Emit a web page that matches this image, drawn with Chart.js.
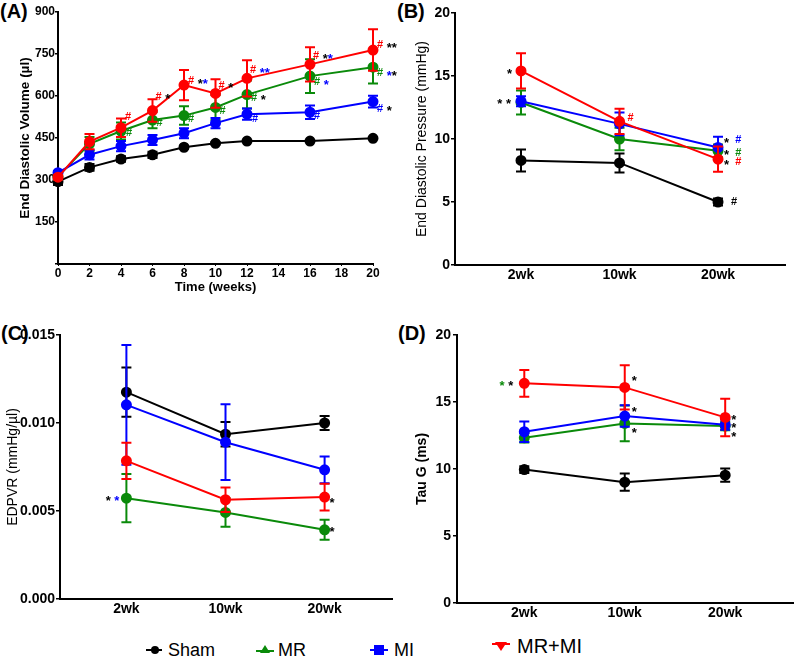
<!DOCTYPE html>
<html>
<head>
<meta charset="utf-8">
<script src="https://cdn.jsdelivr.net/npm/chart.js@4.4.0/dist/chart.umd.min.js"></script>
<style>
  body { margin: 0; background: #fff; width: 800px; height: 660px; position: relative; overflow: hidden;
         font-family: "Liberation Sans", Arial, sans-serif; }
  .box { position: absolute; }
  .tag { position: absolute; font-weight: bold; font-size: 20px; line-height: 20px; }
  .leg { position: absolute; line-height: 1; }
  .leg svg { position: absolute; }
</style>
</head>
<body>
<div class="tag" style="left:0px;top:1px">(A)</div>
<div class="tag" style="left:397px;top:1px">(B)</div>
<div class="tag" style="left:1px;top:323px">(C)</div>
<div class="tag" style="left:398px;top:323px">(D)</div>

<div class="box" style="left:0;top:0;width:400px;height:310px"><canvas id="chartA"></canvas></div>
<div class="box" style="left:400px;top:0;width:400px;height:310px"><canvas id="chartB"></canvas></div>
<div class="box" style="left:0;top:320px;width:400px;height:300px"><canvas id="chartC"></canvas></div>
<div class="box" style="left:400px;top:320px;width:400px;height:300px"><canvas id="chartD"></canvas></div>

<svg class="leg" style="left:144px;top:642px" width="20" height="16"><line x1="2" y1="8" x2="18" y2="8" stroke="#000" stroke-width="2"/><circle cx="11" cy="8" r="4" fill="#000"/></svg>
<span class="leg" style="left:168px;top:641px;font-size:18px">Sham</span>
<svg class="leg" style="left:255px;top:642px" width="20" height="16"><line x1="1" y1="9" x2="19" y2="9" stroke="#0a8a0a" stroke-width="2"/><polygon points="10,3 15,11 5,11" fill="#0a8a0a"/></svg>
<span class="leg" style="left:278px;top:641px;font-size:18px">MR</span>
<svg class="leg" style="left:369px;top:642px" width="20" height="16"><line x1="1" y1="8" x2="19" y2="8" stroke="#0000ff" stroke-width="2"/><rect x="5" y="3" width="10" height="10" fill="#0000ff"/></svg>
<span class="leg" style="left:394px;top:641px;font-size:18px">MI</span>
<svg class="leg" style="left:491px;top:638px" width="20" height="16"><line x1="1" y1="6" x2="19" y2="6" stroke="#ff0000" stroke-width="2"/><polygon points="4,4 16,4 10,13" fill="#ff0000"/></svg>
<span class="leg" style="left:517px;top:636px;font-size:20px">MR+MI</span>

<script>
// ---- data ----
const groups = ['Sham', 'MR', 'MI', 'MR+MI'];
const colors = ['#000000', '#0a8a0a', '#0000ff', '#ff0000'];

// (A) end diastolic volume over time
const weeks = [0, 2, 4, 6, 8, 10, 12, 16, 20];
const edvSham = [294, 345, 375, 390, 417, 431, 439, 439, 449];
const edvShamErr = [12, 12, 10, 11, 5, 4, 3, 3, 3];
const edvMR = [312, 429, 475, 514, 530, 559, 605, 671, 703];
const edvMRErr = [10, 25, 30, 29, 33, 45, 50, 60, 58];
const edvMI = [326, 390, 421, 443, 467, 503, 535, 542, 580];
const edvMIErr = [6, 17, 18, 18, 18, 18, 20, 24, 21];
const edvMRMI = [310, 437, 487, 548, 639, 609, 663, 713, 764];
const edvMRMIErr = [8, 27, 33, 40, 54, 51, 65, 61, 74];

// stages used by (B) (C) (D)
const stages = ['2wk', '10wk', '20wk'];

// (B) end diastolic pressure
const edpSham = [8.3, 8.1, 5.0];
const edpShamErr = [0.87, 0.75, 0.27];
const edpMR = [12.9, 10.0, 9.06];
const edpMRErr = [0.95, 0.9, 0.5];
const edpMI = [13.0, 11.2, 9.33];
const edpMIErr = [0.4, 0.9, 0.85];
const edpMRMI = [15.4, 11.4, 8.4];
const edpMRMIErr = [1.4, 1.0, 1.0];

// (C) EDPVR
const edpvrSham = [0.01175, 0.00936, 0.0100];
const edpvrShamErr = [0.0014, 0.0007, 0.0004];
const edpvrMR = [0.00573, 0.00492, 0.00393];
const edpvrMRErr = [0.00137, 0.00081, 0.00057];
const edpvrMI = [0.01103, 0.00891, 0.00734];
const edpvrMIErr = [0.0034, 0.00215, 0.00076];
const edpvrMRMI = [0.00785, 0.00564, 0.00579];
const edpvrMRMIErr = [0.00103, 0.0007, 0.00076];

// (D) Tau G
const tauSham = [9.96, 9.02, 9.54];
const tauShamErr = [0.25, 0.65, 0.5];
const tauMR = [12.33, 13.4, 13.2];
const tauMRErr = [0.35, 1.33, 0.3];
const tauMI = [12.78, 13.95, 13.3];
const tauMIErr = [0.77, 0.8, 0.37];
const tauMRMI = [16.39, 16.09, 13.85];
const tauMRMIErr = [1.0, 1.65, 1.4];

// ---- helpers ----
const FONT = '"Liberation Sans", Arial, sans-serif';
const K = '#000', G = '#0a8a0a', B = '#0000ff', R = '#ff0000';

// draw error bars for each dataset just before the dataset itself
const errorBars = {
  id: 'errorBars',
  beforeDatasetDraw(chart, args) {
    const ds = chart.data.datasets[args.index];
    if (!ds.errors) return;
    const ctx = chart.ctx;
    const yScale = chart.scales.y;
    ctx.save();
    ctx.strokeStyle = ds.borderColor;
    ctx.lineWidth = 2;
    args.meta.data.forEach((pt, i) => {
      const v = ds.data[i].y, e = ds.errors[i];
      const top = yScale.getPixelForValue(v + e);
      const bot = yScale.getPixelForValue(v - e);
      ctx.beginPath();
      ctx.moveTo(pt.x, top); ctx.lineTo(pt.x, bot);
      ctx.moveTo(pt.x - 5, top); ctx.lineTo(pt.x + 5, top);
      ctx.moveTo(pt.x - 5, bot); ctx.lineTo(pt.x + 5, bot);
      ctx.stroke();
    });
    ctx.restore();
  }
};

// significance marks (# and *) next to points
function notes(items) {
  return {
    id: 'notes',
    afterDatasetsDraw(chart) {
      const ctx = chart.ctx;
      ctx.save();
      ctx.textBaseline = 'middle';
      const fontFor = s => (s.trim() === '*' ? 'bold 13px ' : 'bold 11px ') + FONT;
      items.forEach(n => {
        const pt = chart.getDatasetMeta(n.ds).data[n.i];
        let x = pt.x + n.dx;
        const y = pt.y + n.dy;
        let w = 0;
        n.parts.forEach(p => { ctx.font = fontFor(p[0]); w += ctx.measureText(p[0]).width; });
        if (n.right) x -= w;
        n.parts.forEach(p => {
          ctx.font = fontFor(p[0]);
          ctx.fillStyle = p[1];
          ctx.fillText(p[0], x, p[0].trim() === '*' ? y + 3 : y);
          x += ctx.measureText(p[0]).width;
        });
      });
      ctx.restore();
    }
  };
}

function series(xs, lists, errs) {
  return lists.map((vals, k) => ({
    label: groups[k],
    data: vals.map((v, i) => ({ x: xs[i], y: v })),
    errors: errs[k],
    borderColor: colors[k],
    backgroundColor: colors[k],
    pointBackgroundColor: colors[k],
    pointBorderColor: colors[k],
    pointRadius: 4.5,
    borderWidth: 2,
    order: 3 - k,
    clip: false
  }));
}

function axisY(o) {
  return {
    type: 'linear', min: o.min, max: o.max,
    afterFit: s => { s.width = o.width; },
    border: { display: true, color: '#000', width: 2 },
    grid: { drawOnChartArea: false, drawTicks: true, tickLength: o.tick, color: '#000', lineWidth: 1.5 },
    ticks: { stepSize: o.step, color: '#000', padding: o.pad, font: { family: FONT, size: o.size, weight: 'bold' }, callback: o.fmt },
    title: { display: true, text: o.title, color: '#000', padding: { top: o.tpad, bottom: 0 },
             font: { family: FONT, size: o.tsize, weight: o.tweight } }
  };
}

function stageX(height) {
  return {
    type: 'linear', min: -0.67, max: 2.68,
    afterFit: s => { s.height = height; },
    afterBuildTicks: s => { s.ticks = stages.map((_, i) => ({ value: i })); },
    border: { display: true, color: '#000', width: 2 },
    grid: { drawOnChartArea: false, drawTicks: false },
    ticks: { color: '#000', padding: 2, font: { family: FONT, size: 14, weight: 'bold' }, callback: v => stages[v] }
  };
}

function make(id, datasets, scales, padding, items) {
  return new Chart(document.getElementById(id), {
    type: 'line',
    data: { datasets },
    options: {
      responsive: true, maintainAspectRatio: false, animation: false,
      layout: { padding },
      plugins: { legend: { display: false }, tooltip: { enabled: false } },
      scales
    },
    plugins: [errorBars, notes(items)]
  });
}

const idx = [0, 1, 2];

// ---- (A) ----
make('chartA',
  series(weeks, [edvSham, edvMR, edvMI, edvMRMI], [edvShamErr, edvMRErr, edvMIErr, edvMRMIErr]),
  {
    x: {
      type: 'linear', min: 0, max: 20,
      afterFit: s => { s.height = 46; },
      border: { display: true, color: '#000', width: 2 },
      grid: { drawOnChartArea: false, drawTicks: true, tickLength: 2, color: '#000' },
      ticks: { stepSize: 2, color: '#000', padding: 0, font: { family: FONT, size: 12, weight: 'bold' } },
      title: { display: true, text: 'Time (weeks)', color: '#000', padding: { top: 0, bottom: 15 },
               font: { family: FONT, size: 13, weight: 'bold' } }
    },
    y: axisY({ min: 0, max: 900, step: 150, width: 58, tick: 3, pad: 0, size: 12,
               fmt: v => (v === 0 ? '' : v), title: 'End Diastolic Volume (\u00b5l)', tpad: 17, tsize: 13.5, tweight: 'bold' })
  },
  { top: 12, right: 27, left: 0, bottom: 0 },
  [
    { ds: 3, i: 2, dx: 4, dy: -11, parts: [['#', R]] },
    { ds: 1, i: 2, dx: 5, dy: 2, parts: [['#', G]] },
    { ds: 3, i: 3, dx: 3, dy: -14, parts: [['#', R], [' *', K]] },
    { ds: 1, i: 3, dx: 4, dy: 3, parts: [['#', G]] },
    { ds: 3, i: 4, dx: 4, dy: -4, parts: [['#', R], [' *', K], ['*', B]] },
    { ds: 1, i: 4, dx: 4, dy: 3, parts: [['#', G]] },
    { ds: 3, i: 5, dx: 3, dy: -8, parts: [['#', R], [' *', K]] },
    { ds: 1, i: 5, dx: 4, dy: 3, parts: [['#', G]] },
    { ds: 3, i: 6, dx: 3, dy: -8, parts: [['#', R], [' *', B], ['*', B]] },
    { ds: 1, i: 6, dx: 4, dy: 3, parts: [['#', G], [' *', K]] },
    { ds: 2, i: 6, dx: 5, dy: 5, parts: [['#', B]] },
    { ds: 3, i: 7, dx: 3, dy: -8, parts: [['#', R], [' *', K], ['*', B]] },
    { ds: 1, i: 7, dx: 4, dy: 6, parts: [['#', G], [' *', B]] },
    { ds: 2, i: 7, dx: 4, dy: 4, parts: [['#', B]] },
    { ds: 3, i: 8, dx: 4, dy: -5, parts: [['#', R], [' *', K], ['*', K]] },
    { ds: 1, i: 8, dx: 4, dy: 6, parts: [['#', G], [' *', B], ['*', K]] },
    { ds: 2, i: 8, dx: 4, dy: 7, parts: [['#', B], [' *', K]] }
  ]);

// ---- (B) ----
make('chartB',
  series(idx, [edpSham, edpMR, edpMI, edpMRMI], [edpShamErr, edpMRErr, edpMIErr, edpMRMIErr]),
  {
    x: stageX(45),
    y: axisY({ min: 0, max: 20, step: 5, width: 55, tick: 4, pad: 1, size: 14,
               title: 'End Diastolic Pressure (mmHg)', tpad: 14, tsize: 14, tweight: 'normal' })
  },
  { top: 13, right: 15, left: 0, bottom: 0 },
  [
    { ds: 3, i: 0, dx: -9, dy: 0, right: true, parts: [['*', K]] },
    { ds: 2, i: 0, dx: -10, dy: 0, right: true, parts: [['*', K], [' *', K]] },
    { ds: 3, i: 1, dx: 8, dy: -3, parts: [['#', R]] },
    { ds: 2, i: 2, dx: 6, dy: -7, parts: [['*', K], ['  #', B]] },
    { ds: 1, i: 2, dx: 6, dy: 2, parts: [['*', K], ['  #', G]] },
    { ds: 3, i: 2, dx: 6, dy: 3, parts: [['*', K], ['  #', R]] },
    { ds: 0, i: 2, dx: 13, dy: 0, parts: [['#', K]] }
  ]);

// ---- (C) ----
make('chartC',
  series(idx, [edpvrSham, edpvrMR, edpvrMI, edpvrMRMI], [edpvrShamErr, edpvrMRErr, edpvrMIErr, edpvrMRMIErr]),
  {
    x: stageX(21),
    y: axisY({ min: 0, max: 0.015, step: 0.005, width: 60, tick: 4, pad: 1, size: 14,
               fmt: v => v.toFixed(3), title: 'EDPVR (mmHg/\u00b5l)', tpad: 5, tsize: 14, tweight: 'normal' })
  },
  { top: 15, right: 8, left: 0, bottom: 0 },
  [
    { ds: 1, i: 0, dx: -7, dy: 0, right: true, parts: [['*', K], [' *', B]] },
    { ds: 3, i: 2, dx: 5, dy: 3, parts: [['*', K]] },
    { ds: 1, i: 2, dx: 5, dy: 0, parts: [['*', K]] }
  ]);

// ---- (D) ----
make('chartD',
  series(idx, [tauSham, tauMR, tauMI, tauMRMI], [tauShamErr, tauMRErr, tauMIErr, tauMRMIErr]),
  {
    x: stageX(17),
    y: axisY({ min: 0, max: 20, step: 5, width: 57, tick: 4, pad: 2, size: 14,
               title: 'Tau G (ms)', tpad: 14, tsize: 14, tweight: 'bold' })
  },
  { top: 15, right: 2, left: 0, bottom: 0 },
  [
    { ds: 3, i: 0, dx: -11, dy: 0, right: true, parts: [['*', G], [' *', K]] },
    { ds: 3, i: 1, dx: 7, dy: -9, parts: [['*', K]] },
    { ds: 2, i: 1, dx: 7, dy: -7, parts: [['*', K]] },
    { ds: 1, i: 1, dx: 7, dy: 7, parts: [['*', K]] },
    { ds: 3, i: 2, dx: 6, dy: 0, parts: [['*', K]] },
    { ds: 2, i: 2, dx: 6, dy: 1, parts: [['*', K]] },
    { ds: 1, i: 2, dx: 6, dy: 8, parts: [['*', K]] }
  ]);
</script>
</body>
</html>
